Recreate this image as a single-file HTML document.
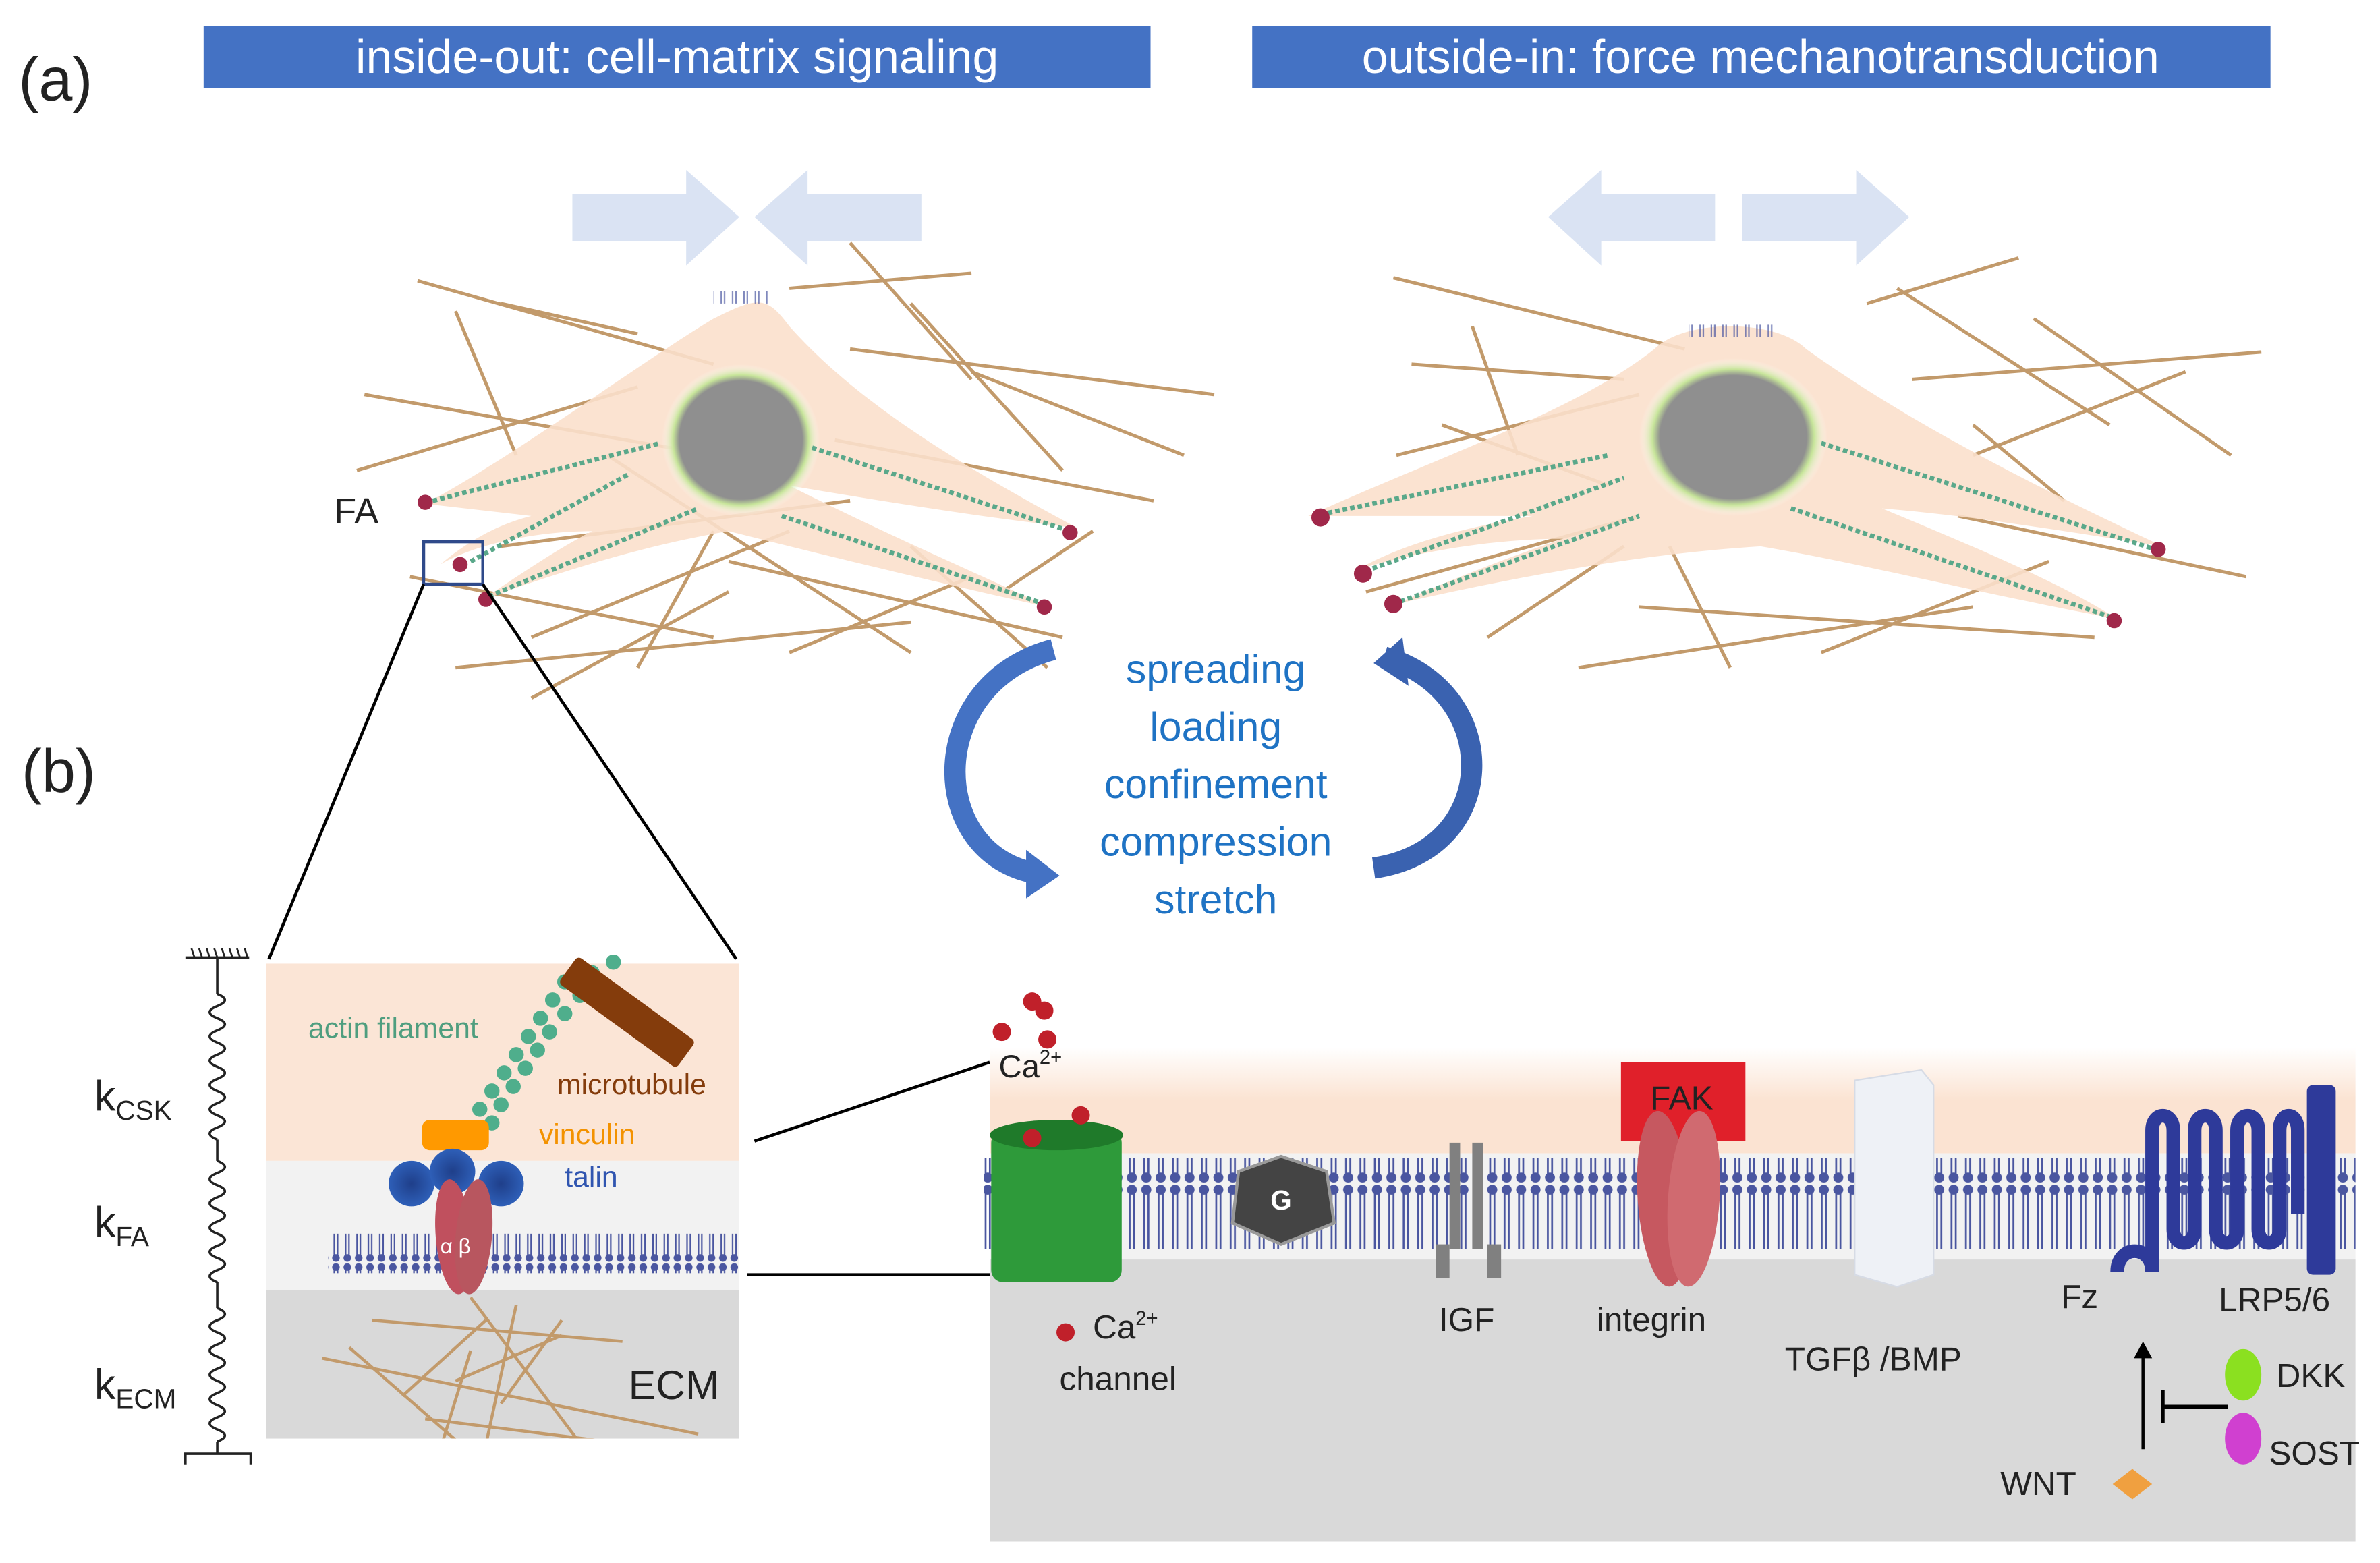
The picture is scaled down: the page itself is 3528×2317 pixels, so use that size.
<!DOCTYPE html>
<html><head><meta charset="utf-8"><style>
html,body{margin:0;padding:0;background:#fff;}
svg{display:block;}
text{font-family:"Liberation Sans",sans-serif;}
</style></head><body>
<svg width="3528" height="2317" viewBox="0 0 1568 1030" xmlns="http://www.w3.org/2000/svg">
<defs>
<pattern id="lip" x="0" y="0" width="9.5" height="60" patternUnits="userSpaceOnUse">
<circle cx="4.7" cy="4" r="3.3" fill="#4a56a0"/>
<circle cx="4.7" cy="56" r="3.3" fill="#4a56a0"/>
<line x1="3.3" y1="6" x2="3.3" y2="54" stroke="#4a56a0" stroke-width="1.2"/>
<line x1="6.1" y1="6" x2="6.1" y2="54" stroke="#4a56a0" stroke-width="1.2"/>
</pattern>
<pattern id="lip2" x="0" y="0" width="7.5" height="26" patternUnits="userSpaceOnUse">
<circle cx="3.7" cy="3" r="2.5" fill="#4a56a0"/>
<circle cx="3.7" cy="23" r="2.5" fill="#4a56a0"/>
<line x1="2.6" y1="4" x2="2.6" y2="22" stroke="#4a56a0" stroke-width="1"/>
<line x1="4.8" y1="4" x2="4.8" y2="22" stroke="#4a56a0" stroke-width="1"/>
</pattern>
<linearGradient id="peach" x1="0" y1="0" x2="0" y2="1">
<stop offset="0" stop-color="#fff"/><stop offset="0.5" stop-color="#fbe3d2"/><stop offset="1" stop-color="#fbe3d2"/>
</linearGradient>
<radialGradient id="nuc" cx="0.5" cy="0.5" r="0.5">
<stop offset="0.78" stop-color="#8f8f8f"/><stop offset="0.86" stop-color="#c7e59a"/><stop offset="1" stop-color="#fff" stop-opacity="0"/>
</radialGradient>
<radialGradient id="talin"><stop offset="0" stop-color="#1f3f8a"/><stop offset="1" stop-color="#2e5fb8"/></radialGradient>
<clipPath id="ecmclip"><rect x="175" y="850" width="312" height="98"/></clipPath>
</defs>

<rect x="134" y="17" width="624" height="41" fill="#4472c4"/>
<text x="446" y="48" font-size="31" fill="#fff" text-anchor="middle">inside-out: cell-matrix signaling</text>
<rect x="825" y="17" width="671" height="41" fill="#4472c4"/>
<text x="1160" y="48" font-size="31" fill="#fff" text-anchor="middle">outside-in: force mechanotransduction</text>
<text x="12" y="66" font-size="40" fill="#222">(a)</text>
<text x="14" y="522" font-size="40" fill="#222">(b)</text>

<g fill="#dae3f3">
<polygon points="377,128 452,128 452,112 487,143 452,175 452,159 377,159"/>
<polygon points="607,128 532,128 532,112 497,143 532,175 532,159 607,159"/>
<polygon points="1130,128 1055,128 1055,112 1020,143 1055,175 1055,159 1130,159"/>
<polygon points="1148,128 1223,128 1223,112 1258,143 1223,175 1223,159 1148,159"/>
</g>

<g stroke="#c29a6b" stroke-width="2.2">
<line x1="275" y1="185" x2="470" y2="240"/><line x1="240" y1="260" x2="470" y2="300"/>
<line x1="300" y1="205" x2="340" y2="300"/><line x1="235" y1="310" x2="420" y2="255"/>
<line x1="330" y1="200" x2="420" y2="220"/><line x1="520" y1="190" x2="640" y2="180"/>
<line x1="560" y1="230" x2="800" y2="260"/><line x1="600" y1="200" x2="700" y2="310"/>
<line x1="640" y1="245" x2="780" y2="300"/><line x1="550" y1="290" x2="760" y2="330"/>
<line x1="330" y1="360" x2="560" y2="330"/><line x1="270" y1="380" x2="470" y2="420"/>
<line x1="350" y1="420" x2="520" y2="350"/><line x1="300" y1="440" x2="600" y2="410"/>
<line x1="420" y1="440" x2="470" y2="350"/><line x1="480" y1="370" x2="700" y2="420"/>
<line x1="520" y1="430" x2="640" y2="380"/><line x1="600" y1="360" x2="690" y2="440"/>
<line x1="400" y1="300" x2="600" y2="430"/><line x1="560" y1="160" x2="640" y2="250"/>
<line x1="350" y1="460" x2="480" y2="390"/><line x1="660" y1="390" x2="720" y2="350"/>
</g>
<path d="M280,332 C340,300 420,240 470,210 C500,195 505,195 520,215 C560,260 620,300 710,348 C640,340 580,330 520,320 C600,360 650,380 690,400 C600,380 520,360 480,350 C420,360 360,380 318,395 C340,380 370,360 390,350 C350,350 310,360 290,372 C310,355 330,345 350,340 Z" fill="#fbe0cc" opacity="0.9"/>
<ellipse cx="488" cy="290" rx="52" ry="50" fill="url(#nuc)"/>
<rect x="470" y="192" width="36" height="8" fill="url(#lip2)" opacity="0.7"/>
<g stroke="#5aa88a" stroke-width="3" stroke-dasharray="3 2">
<line x1="285" y1="330" x2="435" y2="292"/><line x1="310" y1="370" x2="415" y2="312"/>
<line x1="322" y1="393" x2="460" y2="335"/><line x1="535" y1="295" x2="705" y2="350"/>
<line x1="515" y1="340" x2="688" y2="398"/>
</g>
<g fill="#a0284a"><circle cx="280" cy="331" r="5"/><circle cx="303" cy="372" r="5"/><circle cx="320" cy="395" r="5"/><circle cx="705" cy="351" r="5"/><circle cx="688" cy="400" r="5"/></g>
<text x="220" y="345" font-size="24" fill="#222">FA</text>
<rect x="279" y="357" width="39" height="28" fill="none" stroke="#2f4a8a" stroke-width="2"/>
<line x1="279" y1="385" x2="177" y2="632" stroke="#000" stroke-width="2"/>
<line x1="318" y1="385" x2="485" y2="632" stroke="#000" stroke-width="2"/>

<g stroke="#c29a6b" stroke-width="2.2">
<line x1="918" y1="183" x2="1110" y2="230"/><line x1="930" y1="240" x2="1070" y2="250"/>
<line x1="970" y1="215" x2="1000" y2="300"/><line x1="920" y1="300" x2="1080" y2="260"/>
<line x1="1230" y1="200" x2="1330" y2="170"/><line x1="1250" y1="190" x2="1390" y2="280"/>
<line x1="1260" y1="250" x2="1490" y2="232"/><line x1="1300" y1="300" x2="1440" y2="245"/>
<line x1="1340" y1="210" x2="1470" y2="300"/><line x1="1290" y1="340" x2="1480" y2="380"/>
<line x1="900" y1="390" x2="1080" y2="340"/><line x1="980" y1="420" x2="1070" y2="360"/>
<line x1="1040" y1="440" x2="1300" y2="400"/><line x1="1080" y1="400" x2="1380" y2="420"/>
<line x1="1200" y1="430" x2="1350" y2="370"/><line x1="1100" y1="360" x2="1140" y2="440"/>
<line x1="1300" y1="280" x2="1360" y2="330"/><line x1="950" y1="280" x2="1060" y2="320"/>
</g>
<path d="M862,340 C950,300 1040,270 1090,230 C1110,210 1170,210 1190,230 C1260,280 1340,320 1425,360 C1360,350 1300,340 1240,335 C1300,360 1360,385 1395,408 C1300,390 1220,370 1160,360 C1080,365 1000,380 920,398 C960,380 1000,365 1030,355 C980,355 930,365 895,375 C930,355 980,345 1010,340 Z" fill="#fbe0cc" opacity="0.9"/>
<ellipse cx="1142" cy="288" rx="62" ry="52" fill="url(#nuc)"/>
<rect x="1113" y="214" width="58" height="8" fill="url(#lip2)" opacity="0.7"/>
<g stroke="#5aa88a" stroke-width="3" stroke-dasharray="3 2">
<line x1="865" y1="340" x2="1060" y2="300"/><line x1="895" y1="378" x2="1070" y2="315"/>
<line x1="918" y1="398" x2="1080" y2="340"/><line x1="1200" y1="292" x2="1420" y2="362"/>
<line x1="1180" y1="335" x2="1395" y2="408"/>
</g>
<g fill="#a0284a"><circle cx="870" cy="341" r="6"/><circle cx="898" cy="378" r="6"/><circle cx="918" cy="398" r="6"/><circle cx="1422" cy="362" r="5"/><circle cx="1393" cy="409" r="5"/></g>

<path d="M694,428 C610,450 610,560 680,575" fill="none" stroke="#4472c4" stroke-width="14"/>
<polygon points="676,560 698,577 676,592" fill="#4472c4"/>
<path d="M912,433 C990,455 990,560 905,572" fill="none" stroke="#3a62b0" stroke-width="14"/>
<polygon points="924,420 905,437 928,452" fill="#3a62b0"/>
<g font-size="27" fill="#1f73c4" text-anchor="middle">
<text x="801" y="450">spreading</text><text x="801" y="488">loading</text>
<text x="801" y="526">confinement</text><text x="801" y="564">compression</text>
<text x="801" y="602">stretch</text>
</g>

<rect x="175" y="635" width="312" height="130" fill="#fbe5d6"/>
<rect x="175" y="765" width="312" height="85" fill="#f2f2f2"/>
<rect x="175" y="850" width="312" height="98" fill="#d9d9d9"/>
<rect x="216" y="813" width="272" height="26" fill="url(#lip2)"/>
<g stroke="#c29a6b" stroke-width="2" clip-path="url(#ecmclip)">
<line x1="245" y1="870" x2="410" y2="884"/><line x1="212" y1="895" x2="460" y2="945"/>
<line x1="230" y1="888" x2="330" y2="975"/><line x1="280" y1="935" x2="400" y2="950"/>
<line x1="265" y1="920" x2="320" y2="870"/><line x1="300" y1="910" x2="370" y2="880"/>
<line x1="330" y1="925" x2="370" y2="870"/><line x1="310" y1="855" x2="385" y2="955"/>
<line x1="290" y1="955" x2="310" y2="890"/><line x1="315" y1="975" x2="340" y2="860"/>
</g>
<text x="414" y="922" font-size="27" fill="#222">ECM</text>
<g fill="#4fae8c">
<circle cx="300" cy="755" r="5"/><circle cx="308" cy="743" r="5"/><circle cx="316" cy="731" r="5"/><circle cx="324" cy="719" r="5"/><circle cx="332" cy="707" r="5"/><circle cx="340" cy="695" r="5"/><circle cx="348" cy="683" r="5"/><circle cx="356" cy="671" r="5"/><circle cx="364" cy="659" r="5"/><circle cx="372" cy="647" r="5"/><circle cx="390" cy="641" r="5"/><circle cx="404" cy="634" r="5"/>
<circle cx="316" cy="752" r="5"/><circle cx="324" cy="740" r="5"/><circle cx="330" cy="728" r="5"/><circle cx="338" cy="716" r="5"/><circle cx="346" cy="704" r="5"/><circle cx="354" cy="692" r="5"/><circle cx="362" cy="680" r="5"/><circle cx="372" cy="668" r="5"/><circle cx="382" cy="656" r="5"/><circle cx="396" cy="648" r="5"/>
</g>
<g transform="rotate(36 413 667)"><rect x="365" y="656" width="96" height="22" fill="#843c0c" rx="3"/></g>
<rect x="278" y="738" width="44" height="20" rx="5" fill="#ff9900"/>
<circle cx="271" cy="780" r="15" fill="url(#talin)"/><circle cx="298" cy="772" r="15" fill="url(#talin)"/><circle cx="330" cy="780" r="15" fill="url(#talin)"/>
<ellipse cx="299" cy="815" rx="12" ry="38" fill="#c0505e" transform="rotate(-5 299 815)"/>
<ellipse cx="312" cy="815" rx="12" ry="38" fill="#b8565f" transform="rotate(5 312 815)"/>
<text x="290" y="826" font-size="14" fill="#fff">α β</text>
<text x="203" y="684" font-size="19" fill="#4f9e7f">actin filament</text>
<text x="367" y="721" font-size="19" fill="#843c0c">microtubule</text>
<text x="355" y="754" font-size="19" fill="#f39200">vinculin</text>
<text x="372" y="782" font-size="19" fill="#3055b0">talin</text>

<g stroke="#222" stroke-width="1.6" fill="none">
<line x1="122" y1="631" x2="164" y2="631"/>
<g stroke-width="1.2"><line x1="126" y1="625" x2="128" y2="631"/><line x1="131" y1="625" x2="133" y2="631"/><line x1="136" y1="625" x2="138" y2="631"/><line x1="141" y1="625" x2="143" y2="631"/><line x1="146" y1="625" x2="148" y2="631"/><line x1="151" y1="625" x2="153" y2="631"/><line x1="156" y1="625" x2="158" y2="631"/><line x1="161" y1="625" x2="163" y2="631"/></g>
<line x1="143" y1="631" x2="143" y2="655"/>
<path d="M143,655 q10,4 0,8 q-10,4 0,8 q10,4 0,8 q-10,4 0,8 q10,4 0,8 q-10,4 0,8 q10,4 0,8 q-10,4 0,8 q10,4 0,8 q-10,4 0,8 q10,4 0,8 q-10,4 0,8"/>
<line x1="143" y1="751" x2="143" y2="765"/>
<path d="M143,765 q10,4 0,8 q-10,4 0,8 q10,4 0,8 q-10,4 0,8 q10,4 0,8 q-10,4 0,8 q10,4 0,8 q-10,4 0,8 q10,4 0,8 q-10,4 0,8"/>
<line x1="143" y1="845" x2="143" y2="862"/>
<path d="M143,862 q10,4 0,8 q-10,4 0,8 q10,4 0,8 q-10,4 0,8 q10,4 0,8 q-10,4 0,8 q10,4 0,8 q-10,4 0,8 q10,4 0,8 q-10,4 0,8 q10,4 0,8"/>
<line x1="143" y1="950" x2="143" y2="958"/>
<path d="M122,965 L122,958 L165,958 L165,965"/>
</g>
<text x="62" y="732" font-size="28" fill="#222">k<tspan font-size="18" dy="6">CSK</tspan></text>
<text x="62" y="815" font-size="28" fill="#222">k<tspan font-size="18" dy="6">FA</tspan></text>
<text x="62" y="922" font-size="28" fill="#222">k<tspan font-size="18" dy="6">ECM</tspan></text>

<line x1="497" y1="752" x2="652" y2="700" stroke="#000" stroke-width="2"/>
<line x1="492" y1="840" x2="652" y2="840" stroke="#000" stroke-width="2"/>

<rect x="652" y="690" width="900" height="70" fill="url(#peach)"/>
<rect x="652" y="760" width="900" height="70" fill="#f2f2f2"/>
<rect x="652" y="830" width="900" height="186" fill="#d9d9d9"/>
<rect x="648" y="763" width="904" height="60" fill="url(#lip)"/>
<rect x="653" y="745" width="86" height="100" fill="#2e9a3a" rx="8"/>
<ellipse cx="696" cy="748" rx="44" ry="10" fill="#1f7a2a"/>
<g fill="#c0202a"><circle cx="680" cy="660" r="6"/><circle cx="688" cy="666" r="6"/><circle cx="660" cy="680" r="6"/><circle cx="690" cy="685" r="6"/><circle cx="712" cy="735" r="6"/><circle cx="680" cy="750" r="6"/><circle cx="702" cy="878" r="6"/></g>
<text x="658" y="710" font-size="21" fill="#222">Ca<tspan font-size="13" dy="-9">2+</tspan></text>
<text x="720" y="882" font-size="22" fill="#222">Ca<tspan font-size="13" dy="-9">2+</tspan></text>
<text x="698" y="916" font-size="22" fill="#222">channel</text>
<polygon points="844,762 874,772 879,806 844,820 812,806 816,772" fill="#444" stroke="#999" stroke-width="2"/>
<text x="844" y="797" font-size="18" fill="#fff" text-anchor="middle" font-weight="bold">G</text>
<g fill="#808080"><rect x="955" y="753" width="7" height="70"/><rect x="970" y="753" width="7" height="70"/><rect x="946" y="820" width="9" height="22"/><rect x="980" y="820" width="9" height="22"/></g>
<text x="948" y="877" font-size="22" fill="#222">IGF</text>
<rect x="1068" y="700" width="82" height="52" fill="#e0202a"/>
<text x="1108" y="731" font-size="22" fill="#222" text-anchor="middle">FAK</text>
<ellipse cx="1096" cy="790" rx="17" ry="58" fill="#c65860" transform="rotate(-4 1096 790)"/>
<ellipse cx="1116" cy="790" rx="17" ry="58" fill="#d06a70" transform="rotate(4 1116 790)"/>
<text x="1052" y="877" font-size="22" fill="#222">integrin</text>
<polygon points="1222,712 1266,705 1274,715 1274,840 1250,848 1222,840" fill="#eef1f6" stroke="#d6dbe5"/>
<text x="1176" y="903" font-size="22" fill="#222">TGFβ /BMP</text>
<path d="M1395,838 C1395,820 1418,820 1418,838 L1418,745 M1418,745 C1418,732 1432,732 1432,745 L1432,810 C1432,822 1446,822 1446,810 L1446,745 C1446,732 1460,732 1460,745 L1460,810 C1460,822 1474,822 1474,810 L1474,745 C1474,732 1488,732 1488,745 L1488,810 C1488,822 1502,822 1502,810 L1502,745 C1502,732 1514,732 1514,745 L1514,800" fill="none" stroke="#2e3a9a" stroke-width="9"/>
<rect x="1520" y="715" width="19" height="125" rx="4" fill="#2e3a9a"/>
<text x="1358" y="862" font-size="22" fill="#222">Fz</text>
<text x="1462" y="864" font-size="22" fill="#222">LRP5/6</text>
<line x1="1412" y1="955" x2="1412" y2="892" stroke="#000" stroke-width="2"/>
<polygon points="1406,895 1412,884 1418,895" fill="#000"/>
<line x1="1425" y1="927" x2="1468" y2="927" stroke="#000" stroke-width="2.5"/>
<line x1="1425" y1="916" x2="1425" y2="938" stroke="#000" stroke-width="2.5"/>
<ellipse cx="1478" cy="906" rx="12" ry="17" fill="#8be020"/>
<ellipse cx="1478" cy="948" rx="12" ry="17" fill="#d040d0"/>
<text x="1500" y="914" font-size="22" fill="#222">DKK</text>
<text x="1495" y="965" font-size="22" fill="#222">SOST</text>
<polygon points="1405,968 1418,978 1405,988 1392,978" fill="#f0a040"/>
<text x="1318" y="985" font-size="22" fill="#222">WNT</text>
</svg>
</body></html>
